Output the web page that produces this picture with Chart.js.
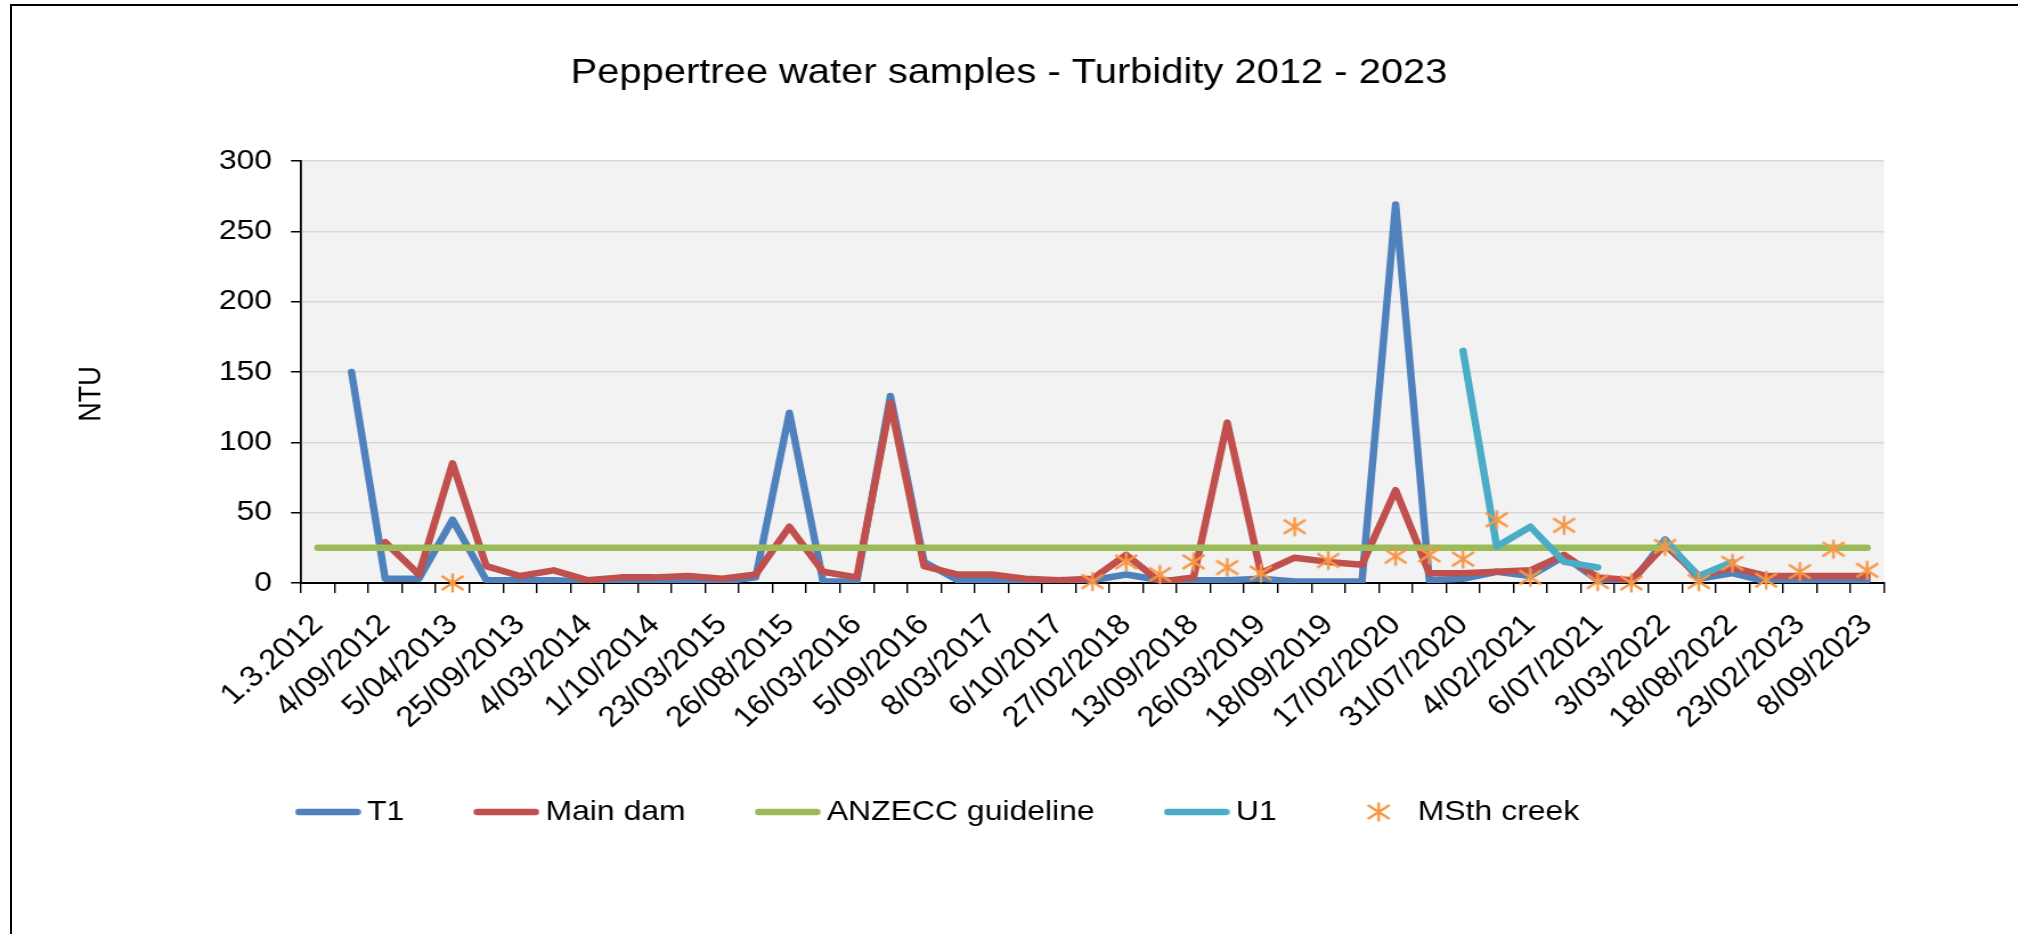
<!DOCTYPE html>
<html>
<head>
<meta charset="utf-8">
<script src="https://cdn.jsdelivr.net/npm/chart.js@4.4.1/dist/chart.umd.min.js"></script>
<style>
  html, body { margin: 0; padding: 0; background: #fff; overflow: hidden; }
  #frame { position: absolute; left: 10px; top: 4px; width: 2100px; height: 1000px;
           border-left: 2px solid #000; border-top: 2px solid #000; }
  /* the original picture is stretched sideways, so the chart is drawn narrower and widened */
  #wrap { position: absolute; left: 0; top: 0; width: 1770px; height: 934px;
          transform: scaleX(1.1401); transform-origin: 0 0; }
</style>
</head>
<body>
<div id="frame"></div>
<div id="wrap"><canvas id="chart"></canvas></div>
<script>
// sample dates - only every second one is printed on the chart
const dates = [
  '1.3.2012', '', '4/09/2012', '', '5/04/2013', '', '25/09/2013', '', '4/03/2014', '',
  '1/10/2014', '', '23/03/2015', '', '26/08/2015', '', '16/03/2016', '', '5/09/2016', '',
  '8/03/2017', '', '6/10/2017', '', '27/02/2018', '', '13/09/2018', '', '26/03/2019', '',
  '18/09/2019', '', '17/02/2020', '', '31/07/2020', '', '4/02/2021', '', '6/07/2021', '',
  '3/03/2022', '', '18/08/2022', '', '23/02/2023', '', '8/09/2023'
];

const t1 = [
  null, 150, 3, 3, 45, 2, 2, 2, 1, 1,
  1, 2, 1, 4, 121, 1, 1, 133, 15, 2,
  2, 1, 1, 2, 6, 2, 2, 2, 3, 1,
  1, 1, 269, 2, 3, 8, 5, 19, 2, 0,
  31, 3, 7, 1, 1, 2, 2
];

const mainDam = [
  null, null, 29, 6, 85, 12, 5, 9, 2, 4,
  4, 5, 3, 6, 40, 8, 4, 128, 12, 6,
  6, 3, 2, 3, 20, 1, 4, 114, 7, 18,
  15, 13, 66, 7, 7, 8, 9, 20, 4, 2,
  27, 5, 11, 5, 5, 5, 5
];

const anzecc = dates.map(function () { return 25; });

const u1 = [
  null, null, null, null, null, null, null, null, null, null,
  null, null, null, null, null, null, null, null, null, null,
  null, null, null, null, null, null, null, null, null, null,
  null, null, null, null, 165, 26, 40, 15, 11, null,
  30, 5, 15, null, null, null, null
];

const msthCreek = [
  null, null, null, null, 0, null, null, null, null, null,
  null, null, null, null, null, null, null, null, null, null,
  null, null, null, 1, 15, 6, 15, 11, 7, 40,
  16, null, 19, 20, 17, 45, 4, 41, 1, 0,
  26, 1, 14, 2, 8, 24, 9
];

const FONT = "'Liberation Sans', Arial, sans-serif";

function lineIcon(color) {
  var c = document.createElement('canvas');
  c.width = 58; c.height = 10;
  var ctx = c.getContext('2d');
  ctx.strokeStyle = color;
  ctx.lineWidth = 6.5;
  ctx.lineCap = 'round';
  ctx.beginPath();
  ctx.moveTo(3.5, 5);
  ctx.lineTo(54.5, 5);
  ctx.stroke();
  return c;
}

function starIcon(w) {
  var c = document.createElement('canvas');
  c.width = w; c.height = 24;
  var ctx = c.getContext('2d');
  var cx = w / 2;
  ctx.strokeStyle = '#f79646';
  ctx.lineWidth = 2.4;
  ctx.beginPath();
  ctx.moveTo(cx, 2.5); ctx.lineTo(cx, 21.5);
  ctx.moveTo(cx - 9.6, 5); ctx.lineTo(cx + 9.6, 19);
  ctx.moveTo(cx - 9.6, 19); ctx.lineTo(cx + 9.6, 5);
  ctx.stroke();
  return c;
}

const legendIcons = [
  lineIcon('#4f81bd'), lineIcon('#c0504d'), lineIcon('#9bbb59'),
  lineIcon('#4bacc6'), starIcon(58)
];

const plotBackground = {
  id: 'plotBackground',
  beforeDraw(chart) {
    const a = chart.chartArea;
    const ctx = chart.ctx;
    ctx.save();
    ctx.fillStyle = '#f2f2f2';
    ctx.fillRect(a.left, a.top, a.right - a.left, a.bottom - a.top);
    ctx.restore();
  }
};

// title across the whole picture and the NTU caption, like the original
const chartTexts = {
  id: 'chartTexts',
  afterDraw(chart) {
    const ctx = chart.ctx;
    ctx.save();
    ctx.fillStyle = '#000';
    ctx.textAlign = 'center';
    ctx.textBaseline = 'middle';
    ctx.font = '35px ' + FONT;
    ctx.fillText('Peppertree water samples - Turbidity 2012 - 2023', chart.width / 2, 73);
    ctx.translate(81, 394);
    ctx.rotate(-Math.PI / 2);
    ctx.font = '27px ' + FONT;
    ctx.fillText('NTU', 0, 0);
    ctx.restore();
  }
};

const lineStyle = { pointRadius: 0, pointHoverRadius: 0, borderWidth: 6.5,
  borderCapStyle: 'round', borderJoinStyle: 'round', tension: 0, fill: false };

new Chart(document.getElementById('chart'), {
  type: 'line',
  data: {
    labels: dates,
    datasets: [
      Object.assign({ label: 'T1', data: t1, borderColor: '#4f81bd', backgroundColor: '#4f81bd', order: 5 }, lineStyle),
      Object.assign({ label: 'Main dam', data: mainDam, borderColor: '#c0504d', backgroundColor: '#c0504d', order: 4 }, lineStyle),
      Object.assign({ label: 'ANZECC guideline', data: anzecc, borderColor: '#9bbb59', backgroundColor: '#9bbb59', order: 3 }, lineStyle),
      Object.assign({ label: 'U1', data: u1, borderColor: '#4bacc6', backgroundColor: '#4bacc6', order: 2 }, lineStyle),
      { label: 'MSth creek', data: msthCreek, showLine: false, pointStyle: starIcon(24),
        pointRadius: 10, pointHoverRadius: 10, borderColor: '#f79646', backgroundColor: '#f79646',
        clip: false, order: 1 }
    ]
  },
  options: {
    responsive: true,
    maintainAspectRatio: false,
    animation: false,
    layout: { padding: { left: 0, right: 117.5, top: 161, bottom: 98 } },
    plugins: {
      title: { display: false },
      legend: {
        position: 'bottom',
        labels: {
          usePointStyle: true,
          pointStyleWidth: 40.6,
          padding: 69.2,
          color: '#000',
          font: { family: FONT, size: 28 },
          generateLabels: function (chart) {
            return chart.data.datasets.map(function (ds, i) {
              return { text: ds.label, pointStyle: legendIcons[i], datasetIndex: i,
                hidden: false, fontColor: '#000', lineWidth: 0,
                strokeStyle: 'transparent', fillStyle: 'transparent' };
            });
          }
        }
      },
      tooltip: { enabled: false }
    },
    scales: {
      x: {
        offset: true,
        grid: { display: true, drawOnChartArea: false, drawTicks: true, offset: true,
          tickLength: 10, tickColor: '#000', lineWidth: 1.4 },
        border: { display: true, color: '#000', width: 2 },
        ticks: {
          autoSkip: false, minRotation: 45, maxRotation: 45, padding: 15,
          color: '#000', font: { family: FONT, size: 29 }
        },
        afterFit: function (scale) { scale.height = 145.8; }
      },
      y: {
        min: 0, max: 300,
        grid: { color: '#d9d9d9', lineWidth: 1.5, tickColor: '#000', tickLength: 8.8 },
        border: { display: true, color: '#000', width: 1.8 },
        ticks: { stepSize: 50, padding: 16.6, color: '#000', font: { family: FONT, size: 28 } },
        afterFit: function (scale) { scale.width = 264; }
      }
    }
  },
  plugins: [plotBackground, chartTexts]
});
</script>
</body>
</html>
